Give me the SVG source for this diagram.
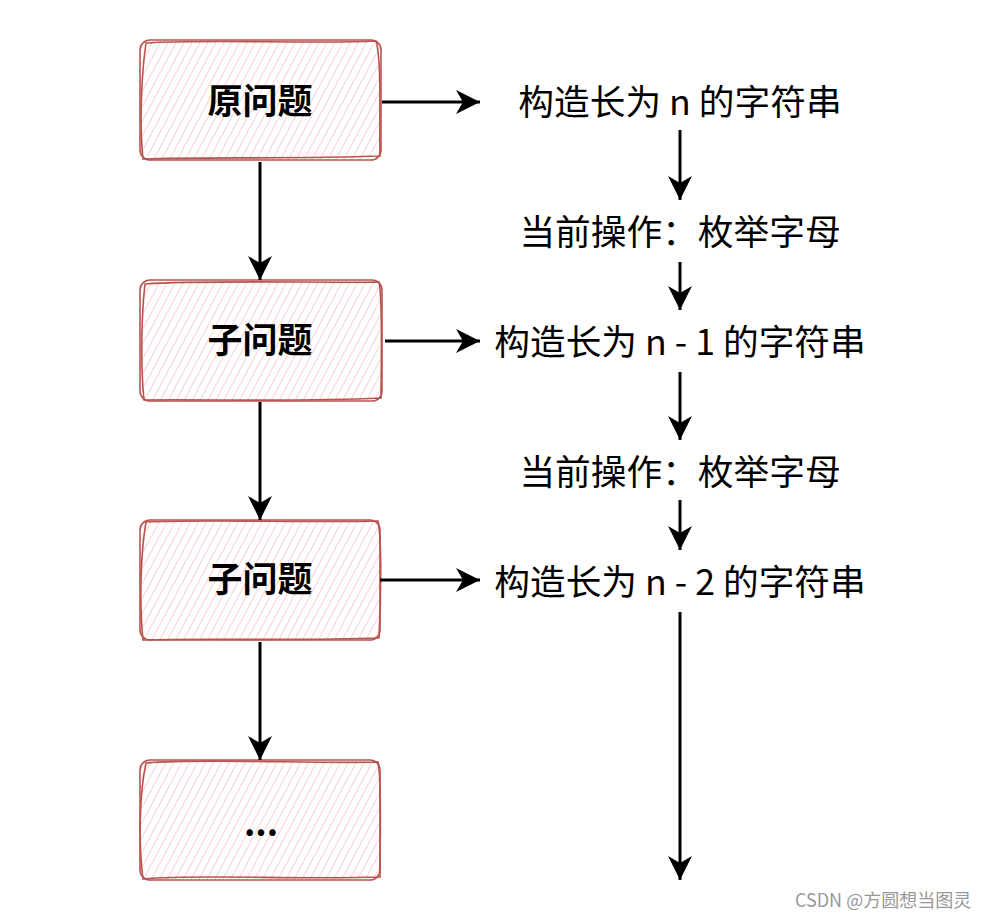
<svg xmlns="http://www.w3.org/2000/svg" width="1000" height="920" viewBox="0 0 1000 920">
<style>
.box{fill:url(#hatch);}
.edge{fill:none;stroke:#b85450;stroke-width:1.6;}
.lbl{font-family:"Noto Sans CJK SC","Noto Sans",sans-serif;font-weight:bold;font-size:35px;fill:#000;text-anchor:middle;}
.txt{font-family:"Noto Sans CJK SC","Noto Sans",sans-serif;font-size:35.7px;fill:#000;text-anchor:middle;}
.conn{fill:none;stroke:#000;stroke-width:3;marker-end:url(#arr);}
.wm{font-family:"Noto Sans CJK SC","Liberation Sans",sans-serif;font-size:18px;fill:#999;}
</style>
<defs>
<pattern id="hatch" patternUnits="userSpaceOnUse" width="7" height="7" patternTransform="rotate(28)">
<line x1="0" y1="0" x2="0" y2="7" stroke="#f8cecc" stroke-width="1.8"/>
</pattern>
<marker id="arr" markerUnits="userSpaceOnUse" markerWidth="26" markerHeight="26" viewBox="-24 -13 26 26" refX="0" refY="0" orient="auto">
<path d="M-24,-12 L0,0 L-24,12 L-17,0 Z" fill="#000"/>
</marker>
</defs>

<g id="node-orig">
<rect class="box" x="141" y="41" width="239" height="119" rx="10"/>
<rect class="edge" x="140" y="40" width="241" height="120" rx="10"/>
<path class="edge" d="M146,43 C200,39 320,44 376,41 C382,60 379,120 380,156 C300,159 200,157 143,159 C139,120 142,70 146,43 Z"/>
<text class="lbl" x="260" y="114">原问题</text>
</g>

<g id="node-sub1">
<rect class="box" x="141" y="281" width="239" height="119" rx="10"/>
<rect class="edge" x="140" y="280" width="242" height="121" rx="10"/>
<path class="edge" d="M145,284 C200,280 320,283 379,282 C383,300 381,370 381,398 C300,402 200,399 144,400 C140,360 142,310 145,284 Z"/>
<text class="lbl" x="260" y="353">子问题</text>
</g>

<g id="node-sub2">
<rect class="box" x="141" y="521" width="239" height="119" rx="10"/>
<rect class="edge" x="140" y="520" width="240" height="120" rx="10"/>
<path class="edge" d="M146,522 C200,519 320,523 378,521 C382,540 381,600 379,638 C300,641 200,638 143,640 C139,600 141,550 146,522 Z"/>
<text class="lbl" x="260" y="592">子问题</text>
</g>

<g id="node-more">
<rect class="box" x="141" y="761" width="239" height="119" rx="10"/>
<rect class="edge" x="140" y="760" width="240" height="120" rx="10"/>
<path class="edge" d="M146,763 C200,758 320,764 378,762 C382,780 380,840 380,877 C300,880 200,874 143,879 C138,840 140,790 146,763 Z"/>
<text class="lbl" x="261" y="836">...</text>
</g>

<g id="label-n">
<text class="txt" x="680" y="115">构造长为 n 的字符串</text>
</g>
<g id="label-op1">
<text class="txt" x="680" y="245">当前操作：枚举字母</text>
</g>
<g id="label-n1">
<text class="txt" x="680" y="355">构造长为 n - 1 的字符串</text>
</g>
<g id="label-op2">
<text class="txt" x="680" y="485">当前操作：枚举字母</text>
</g>
<g id="label-n2">
<text class="txt" x="680" y="595">构造长为 n - 2 的字符串</text>
</g>

<g id="connectors">
<line class="conn" x1="382" y1="102" x2="480" y2="102"/>
<line class="conn" x1="385" y1="341" x2="480" y2="341"/>
<line class="conn" x1="380" y1="580" x2="480" y2="580"/>
<line class="conn" x1="260" y1="162" x2="260" y2="280"/>
<line class="conn" x1="260" y1="402" x2="260" y2="520"/>
<line class="conn" x1="260" y1="642" x2="260" y2="760"/>
<line class="conn" x1="680" y1="130" x2="680" y2="200"/>
<line class="conn" x1="680" y1="262" x2="680" y2="310"/>
<line class="conn" x1="680" y1="372" x2="680" y2="440"/>
<line class="conn" x1="680" y1="500" x2="680" y2="550"/>
<line class="conn" x1="680" y1="612" x2="680" y2="880"/>
</g>

<text class="wm" x="795" y="907">CSDN @方圆想当图灵</text>
</svg>
